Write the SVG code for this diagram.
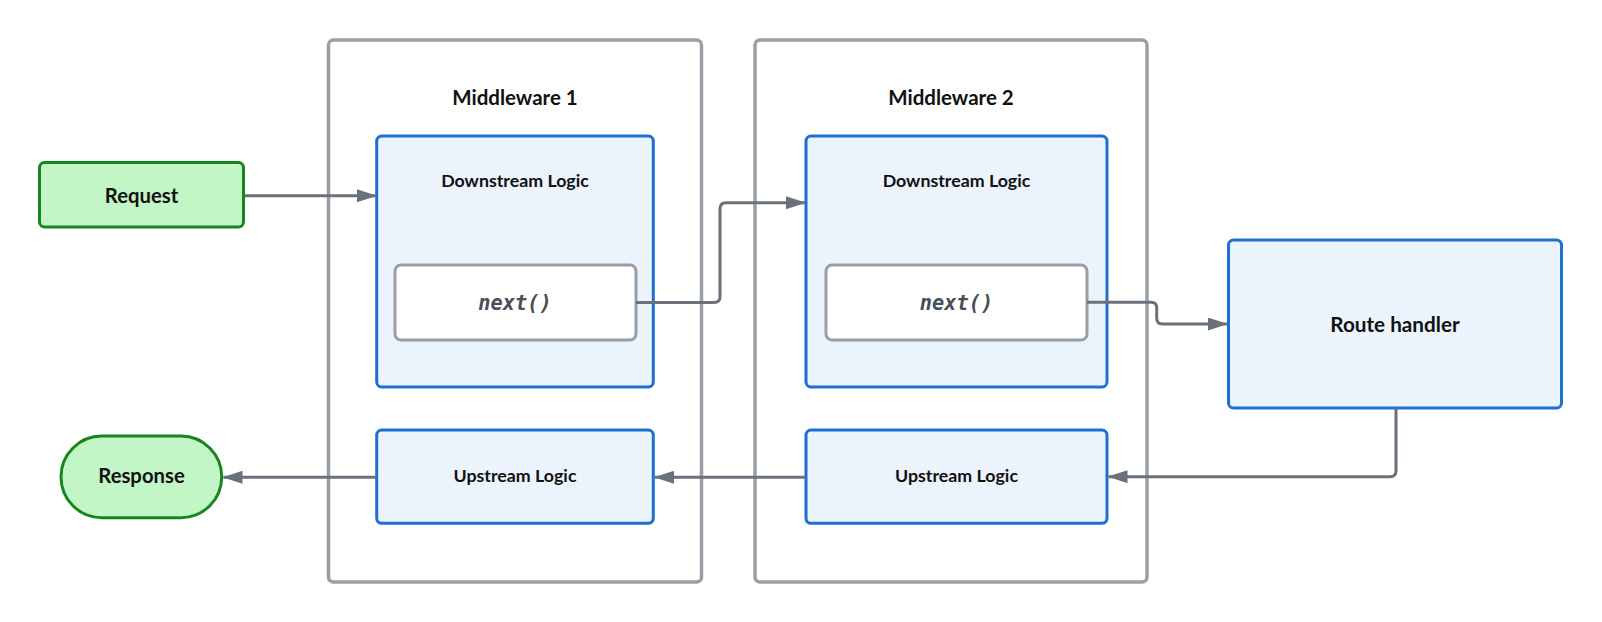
<svg xmlns="http://www.w3.org/2000/svg" width="1602" height="622" viewBox="0 0 1602 622">
<style>
  .t { font-family: Lato, "Liberation Sans", sans-serif; font-weight: bold; fill: #111; text-anchor: middle; }
  .group { fill: #ffffff; stroke: #9a9ea6; stroke-width: 3.5; }
  .blue { fill: #ebf4fd; stroke: #1f6fce; stroke-width: 3; }
  .green { fill: #c3f6c7; stroke: #17851e; stroke-width: 3; }
  .nextbox { fill: #ffffff; stroke: #9a9ea6; stroke-width: 3; }
  .code { font-family: "DejaVu Sans Mono", "Liberation Mono", monospace; font-weight: bold; font-style: italic; font-size: 20.3px; fill: #4a4e57; text-anchor: middle; }
  .conn { fill: none; stroke: #6b717b; stroke-width: 3; marker-end: url(#arrow); }
</style>
<defs>
  <marker id="arrow" markerUnits="userSpaceOnUse" markerWidth="20" markerHeight="14" refX="19" refY="6.5" orient="auto">
    <path d="M0,0 L20,6.5 L0,13 z" fill="#6b717b"/>
  </marker>
</defs>
<rect width="1602" height="622" fill="#ffffff"/>

<g id="middleware1">
  <rect class="group" x="328.5" y="40" width="373" height="542" rx="5"/>
  <text class="t" x="515" y="105" font-size="20.5">Middleware 1</text>
</g>
<g id="middleware2">
  <rect class="group" x="755" y="40" width="392" height="542" rx="5"/>
  <text class="t" x="951" y="105" font-size="20.5">Middleware 2</text>
</g>

<g id="request">
  <rect class="green" x="39.5" y="162.5" width="204" height="64.5" rx="5"/>
  <text class="t" x="141.5" y="202.7" font-size="20.3">Request</text>
</g>
<g id="response">
  <rect class="green" x="61" y="436" width="160.7" height="81.7" rx="40.8"/>
  <text class="t" x="141.5" y="483.3" font-size="20.3">Response</text>
</g>

<g id="downstream1">
  <rect class="blue" x="376.7" y="136" width="276.6" height="251" rx="5"/>
  <text class="t" x="515" y="186.7" font-size="17.8">Downstream Logic</text>
</g>
<g id="next1">
  <rect class="nextbox" x="395" y="265" width="241" height="75" rx="6"/>
  <text class="code" x="515" y="310">next()</text>
</g>
<g id="downstream2">
  <rect class="blue" x="806" y="136" width="301" height="251" rx="5"/>
  <text class="t" x="956.5" y="186.7" font-size="17.8">Downstream Logic</text>
</g>
<g id="next2">
  <rect class="nextbox" x="826" y="265" width="261" height="75" rx="6"/>
  <text class="code" x="956.5" y="310">next()</text>
</g>
<g id="upstream1">
  <rect class="blue" x="376.7" y="430" width="276.6" height="93.3" rx="5"/>
  <text class="t" x="515" y="482.3" font-size="17.8">Upstream Logic</text>
</g>
<g id="upstream2">
  <rect class="blue" x="806" y="430" width="301" height="93.3" rx="5"/>
  <text class="t" x="956.5" y="482.3" font-size="17.8">Upstream Logic</text>
</g>
<g id="route">
  <rect class="blue" x="1228.5" y="240" width="333" height="168" rx="5"/>
  <text class="t" x="1395" y="331.7" font-size="20.7">Route handler</text>
</g>

<g id="connectors">
  <path class="conn" d="M245,195.7 H376"/>
  <path class="conn" d="M636,302.5 H714 Q720,302.5 720,296.5 V208.7 Q720,202.7 726,202.7 H805"/>
  <path class="conn" d="M1087,302.3 H1151 Q1156.7,302.3 1156.7,308 V318 Q1156.7,324 1162.7,324 H1227"/>
  <path class="conn" d="M1396,408 V470.7 Q1396,476.7 1390,476.7 H1108.5"/>
  <path class="conn" d="M806,477.3 H655"/>
  <path class="conn" d="M376.7,477.3 H223.5"/>
</g>
</svg>
